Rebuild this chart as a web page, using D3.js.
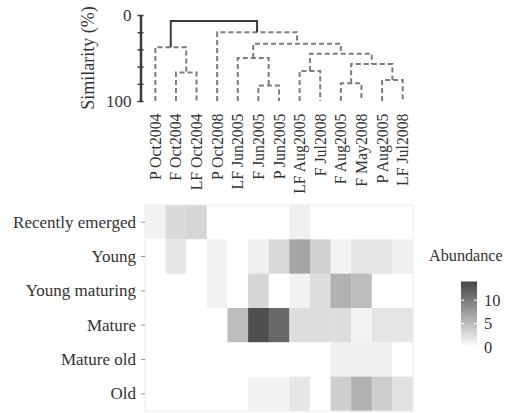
<!DOCTYPE html>
<html>
<head>
<meta charset="utf-8">
<script src="https://cdn.jsdelivr.net/npm/d3@7"></script>
<style>
body { margin: 0; background: #fff; }
text { font-family: "Liberation Serif", "Times New Roman", serif; fill: #333; }
</style>
</head>
<body>
<div id="chart"></div>
<script>
// samples (heatmap columns = dendrogram leaves, in leaf order)
var samples = ["P Oct2004", "F Oct2004", "LF Oct2004", "P Oct2008", "LF Jun2005", "F Jun2005",
    "P Jun2005", "LF Aug2005", "F Jul2008", "F Aug2005", "F May2008", "P Aug2005", "LF Jul2008"];
var stages = ["Recently emerged", "Young", "Young maturing", "Mature", "Mature old", "Old"];

// abundance of each stage, one value per sample
var recentlyEmerged = [1.0, 2.7, 3.1, 0, 0, 0, 0, 1.1, 0, 0, 0, 0, 0];
var young = [0, 1.9, 0, 1.0, 0, 1.1, 2.8, 6.8, 3.5, 0.9, 1.9, 1.9, 1.2];
var youngMaturing = [0, 0, 0, 1.0, 0, 3.1, 0, 1.0, 2.6, 5.9, 5.0, 0, 0];
var mature = [0, 0, 0, 0, 5.0, 13.3, 11.4, 2.6, 2.6, 2.6, 0.9, 2.0, 2.0];
var matureOld = [0, 0, 0, 0, 0, 0, 0, 0, 0, 1.1, 1.1, 1.1, 0];
var old = [0, 0, 0, 0, 0, 1.0, 1.0, 1.9, 0, 3.6, 5.9, 3.7, 2.3];
var abundance = [recentlyEmerged, young, youngMaturing, mature, matureOld, old];

// dendrogram merges (hclust style: negative = leaf number, positive = earlier merge)
var mergeA = [-2, -1, -6, -5, -8, -10, -12, 6, 5, 4, -4, 2];
var mergeB = [-3, 1, -7, 3, -9, -11, -13, 7, 8, 9, 10, 11];
var mergeHeight = [67, 37.5, 82, 50, 65, 79.5, 75.5, 57, 45, 33.5, 20, 7];

var simTicks = [0, 20, 40, 60, 80, 100];
var legendTicks = [0, 5, 10];

var width = 507, height = 413;

var svg = d3.select("#chart")
    .append("svg")
    .attr("width", width)
    .attr("height", height);

// scales
var x = d3.scaleBand().domain(samples).range([145, 413]);
var y = d3.scaleBand().domain(stages).range([205, 411]);
var sim = d3.scaleLinear().domain([0, 100]).range([15, 101]);
var color = d3.scaleLinear().domain([0, 14]).range(["#ffffff", "#464646"]);

// ---- heatmap ----
var cells = [];
abundance.forEach(function (row, i) {
    row.forEach(function (v, j) {
        cells.push({ stage: stages[i], sample: samples[j], value: v });
    });
});

svg.append("g")
    .selectAll("rect")
    .data(cells)
    .enter()
    .append("rect")
    .attr("x", function (d) { return x(d.sample); })
    .attr("y", function (d) { return y(d.stage); })
    .attr("width", x.bandwidth() + 0.3)
    .attr("height", y.bandwidth() + 0.3)
    .attr("fill", function (d) { return color(d.value); });

// faint panel edges
svg.append("rect")
    .attr("x", 145).attr("y", 205)
    .attr("width", 268).attr("height", 206)
    .attr("fill", "none")
    .attr("stroke", "#ececec")
    .attr("stroke-width", 1);

// row axis
var rowAxis = svg.append("g")
    .attr("transform", "translate(145,0)")
    .call(d3.axisLeft(y).tickSize(4).tickPadding(5).tickSizeOuter(0));
rowAxis.select(".domain").remove();
rowAxis.selectAll(".tick line").attr("stroke", "#999");
rowAxis.selectAll("text")
    .attr("font-size", "17px")
    .attr("font-family", "Liberation Serif, Times New Roman, serif")
    .attr("fill", "#333");

// column labels
svg.append("g")
    .selectAll("text")
    .data(samples)
    .enter()
    .append("text")
    .attr("transform", function (d) {
        return "translate(" + (x(d) + x.bandwidth() / 2) + ",113.5) rotate(-90)";
    })
    .attr("dy", "0.35em")
    .attr("text-anchor", "end")
    .attr("font-size", "15.8px")
    .text(function (d) { return d; });

// ---- dendrogram ----
function nodePos(ref) {
    if (ref < 0) {
        return { x: x(samples[-ref - 1]) + x.bandwidth() / 2, h: 100 };
    }
    return merged[ref - 1];
}
var merged = [];
mergeHeight.forEach(function (h, i) {
    var a = nodePos(mergeA[i]), b = nodePos(mergeB[i]);
    merged.push({ x: (a.x + b.x) / 2, h: h, a: a, b: b, root: i === mergeHeight.length - 1 });
});

svg.append("g")
    .selectAll("path")
    .data(merged)
    .enter()
    .append("path")
    .attr("d", function (d) {
        return "M" + d.a.x + "," + sim(d.a.h) + "V" + sim(d.h) + "H" + d.b.x + "V" + sim(d.b.h);
    })
    .attr("fill", "none")
    .attr("stroke", function (d) { return d.root ? "#3a3a3a" : "#7d7d7d"; })
    .attr("stroke-width", 2)
    .attr("stroke-dasharray", function (d) { return d.root ? null : "5,3"; });

// similarity axis
var simAxis = svg.append("g")
    .attr("transform", "translate(140.5,0)")
    .call(d3.axisLeft(sim)
        .tickValues(simTicks)
        .tickSize(0)
        .tickSizeOuter(0)
        .tickPadding(9)
        .tickFormat(function (d) { return (d === 0 || d === 100) ? d : ""; }));
simAxis.select(".domain").attr("stroke", "#3a3a3a").attr("stroke-width", 2.5);
simAxis.selectAll(".tick line")
    .attr("x1", -3).attr("x2", 3)
    .attr("stroke", "#3a3a3a").attr("stroke-width", 1.5);
simAxis.selectAll("text")
    .attr("font-size", "17px")
    .attr("font-family", "Liberation Serif, Times New Roman, serif")
    .attr("fill", "#333");

svg.append("text")
    .attr("transform", "translate(94," + sim(50) + ") rotate(-90)")
    .attr("text-anchor", "middle")
    .attr("font-size", "18px")
    .text("Similarity (%)");

// ---- legend ----
var legendY = d3.scaleLinear().domain([0, 14]).range([347, 281.5]);

var grad = svg.append("defs").append("linearGradient")
    .attr("id", "abund")
    .attr("x1", 0).attr("y1", 1).attr("x2", 0).attr("y2", 0);
grad.append("stop").attr("offset", 0).attr("stop-color", color(0));
grad.append("stop").attr("offset", 1).attr("stop-color", color(14));

svg.append("text")
    .attr("x", 429)
    .attr("y", 261)
    .attr("font-size", "16.2px")
    .attr("fill", "#222")
    .text("Abundance");

svg.append("rect")
    .attr("x", 461)
    .attr("y", legendY(14))
    .attr("width", 16)
    .attr("height", legendY(0) - legendY(14))
    .attr("fill", "url(#abund)");

var lg = svg.append("g")
    .selectAll("g")
    .data(legendTicks)
    .enter()
    .append("g");
lg.append("line")
    .attr("x1", 461).attr("x2", 464)
    .attr("y1", function (d) { return legendY(d); })
    .attr("y2", function (d) { return legendY(d); })
    .attr("stroke", "#fff");
lg.append("line")
    .attr("x1", 474).attr("x2", 477)
    .attr("y1", function (d) { return legendY(d); })
    .attr("y2", function (d) { return legendY(d); })
    .attr("stroke", "#fff");
lg.append("text")
    .attr("x", 484)
    .attr("y", function (d) { return legendY(d); })
    .attr("dy", "0.35em")
    .attr("font-size", "16.5px")
    .text(function (d) { return d; });
</script>
</body>
</html>
